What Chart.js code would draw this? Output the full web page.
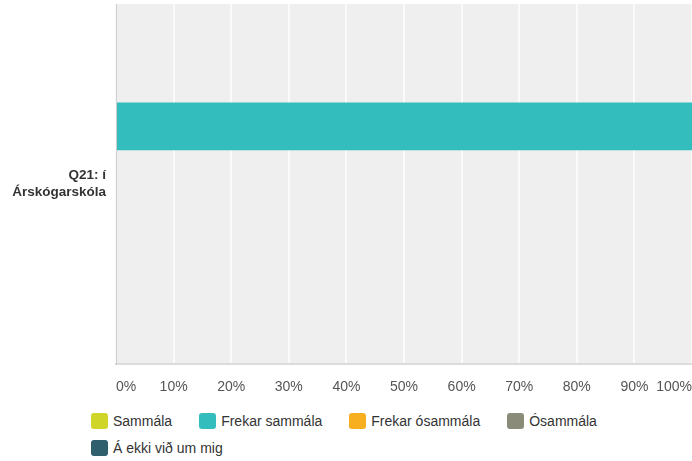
<!DOCTYPE html>
<html>
<head>
<meta charset="utf-8">
<script src="https://cdn.jsdelivr.net/npm/chart.js@4/dist/chart.umd.min.js"></script>
<style>
html,body{margin:0;background:#fff;overflow:hidden;font-family:"Liberation Sans",Arial,sans-serif}
#wrap{position:relative;width:692px;height:461px}
#c{display:block}
#legend{position:absolute;left:91px;top:412px;width:600px;display:flex;flex-wrap:wrap;row-gap:10px}
.li{display:flex;align-items:center;margin-right:27px;font-size:14px;color:#333;height:17px}
.li span.box{width:17px;height:16px;border-radius:3px;margin-right:5px;display:inline-block}
</style>
</head>
<body>
<div id="wrap">
<canvas id="c" width="692" height="400"></canvas>
<div id="legend"></div>
</div>
<script>
const categories=[['Q21: í','Árskógarskóla']];
const seriesNames=['Sammála','Frekar sammála','Frekar ósammála','Ósammála','Á ekki við um mig'];
const seriesValues=[[0],[100],[0],[0],[0]];
const seriesColors=['#d0d52a','#33bdbd','#f7ae1f','#8a8b78','#2f5e6c'];
const tickValues=[0,10,20,30,40,50,60,70,80,90,100];

const bgPlugin={id:'bg',beforeDraw(ch){const a=ch.chartArea,c=ch.ctx;c.save();c.fillStyle='#efefef';c.fillRect(a.left,a.top,a.right-a.left,a.bottom-a.top);c.restore()}};

const chart=new Chart(document.getElementById('c'),{
  type:'bar',
  data:{labels:categories,datasets:seriesNames.map((s,i)=>({label:s,data:seriesValues[i],backgroundColor:seriesColors[i],borderWidth:0,categoryPercentage:0.8,barPercentage:0.83}))},
  options:{
    indexAxis:'y',responsive:false,animation:false,devicePixelRatio:1,
    layout:{padding:{top:4,right:0,left:0,bottom:0}},
    plugins:{legend:{display:false},tooltip:{enabled:false}},
    scales:{
      x:{min:0,max:100,afterBuildTicks(s){s.ticks=tickValues.map(v=>({value:v}))},afterFit(s){s.height=36;s.paddingLeft=0;s.paddingRight=0},
        grid:{color:'#fafafa',lineWidth:2,drawTicks:false},border:{color:'#dcdcdc',width:2},
        ticks:{padding:15,align:'inner',color:'#555',font:{family:'"Liberation Sans", Arial',size:14},callback:v=>v+'%'}},
      y:{afterFit(s){s.width=116;s.paddingTop=0;s.paddingBottom=0},grid:{display:false,drawTicks:false},border:{color:'#cfcfcf',width:1},
        ticks:{padding:10,color:'#333',font:{family:'"Liberation Sans", Arial',size:13.5,weight:'bold',lineHeight:1.3}}}
    }
  },
  plugins:[bgPlugin]
});

document.getElementById('legend').innerHTML=chart.data.datasets.map(d=>`<div class="li"><span class="box" style="background:${d.backgroundColor}"></span>${d.label}</div>`).join('');
</script>
</body>
</html>
